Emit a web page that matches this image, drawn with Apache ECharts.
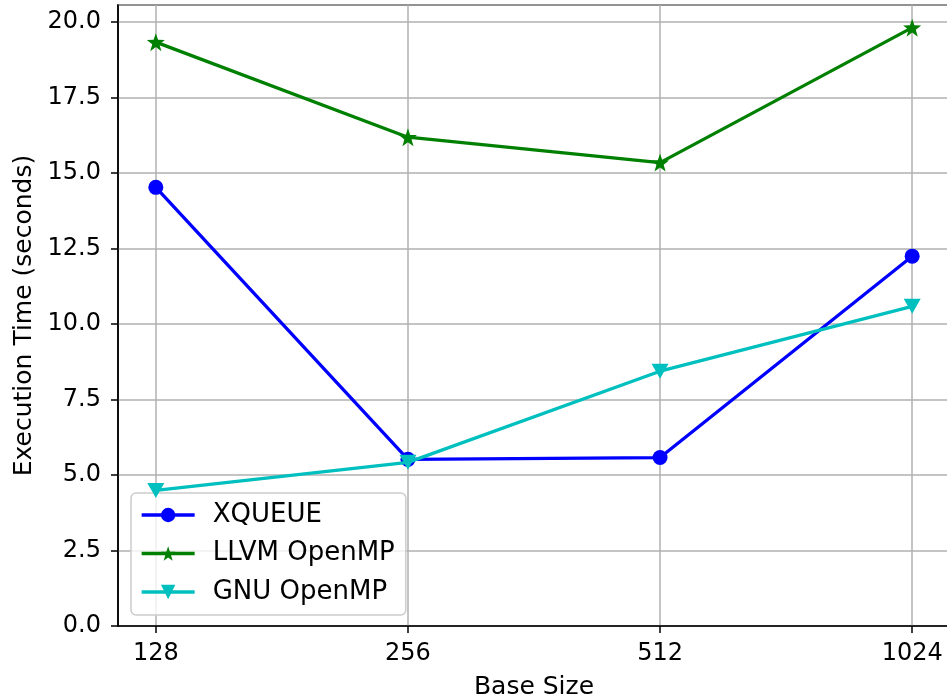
<!DOCTYPE html>
<html><head><meta charset="utf-8">
<script src="https://cdn.jsdelivr.net/npm/echarts@6/dist/echarts.min.js"></script>
<style>html,body{margin:0;padding:0;background:#fff}#c{width:947px;height:698px}</style>
</head><body><div id="c"></div>
<script>
const categories = ['128', '256', '512', '1024'];
const xqueue = [14.53, 5.52, 5.58, 12.25];
const llvm = [19.34, 16.19, 15.35, 19.82];
const gnu = [4.49, 5.42, 8.44, 10.59];
const yTicks = [0, 2.5, 5, 7.5, 10, 12.5, 15, 17.5, 20];

const FONT = 'DejaVu Sans';
const star = 'path://M0,-10 L2.35,-3.24 L9.51,-3.09 L3.8,1.24 L5.88,8.09 L0,4 L-5.88,8.09 L-3.8,1.24 L-9.51,-3.09 L-2.35,-3.24 Z';
const toPts = arr => arr.map((v, i) => [i, v]);

const chart = echarts.init(document.getElementById('c'), null, {renderer: 'canvas'});
chart.setOption({
  animation: false,
  backgroundColor: '#ffffff',
  textStyle: {fontFamily: FONT},
  grid: {left: 118, right: -3, top: 5, bottom: 72, outerBoundsMode: 'none', containLabel: false, show: true, borderColor: '#000', borderWidth: 1.5, backgroundColor: 'transparent'},
  xAxis: {
    type: 'value', min: -0.15, max: 3.15,
    name: 'Base Size', nameLocation: 'middle', nameGap: 49,
    nameTextStyle: {fontFamily: FONT, fontSize: 25, color: '#000'},
    axisLine: {show: true, onZero: false, lineStyle: {color: '#000', width: 1.5}},
    axisTick: {show: true, length: 7, customValues: [0, 1, 2, 3], lineStyle: {color: '#000', width: 1.5}},
    axisLabel: {customValues: [0, 1, 2, 3], formatter: v => categories[Math.round(v)], fontFamily: FONT, fontSize: 24, color: '#000', margin: 16},
    splitLine: {show: true, lineStyle: {color: '#b0b0b0', width: 1.5}}
  },
  yAxis: {
    type: 'value', min: 0, max: 20.57, interval: 2.5,
    name: 'Execution Time (seconds)', nameLocation: 'middle', nameGap: 80, nameRotate: 90,
    nameTextStyle: {fontFamily: FONT, fontSize: 25, color: '#000'},
    axisLine: {show: true, onZero: false, lineStyle: {color: '#000', width: 1.5}},
    axisTick: {show: true, length: 7, lineStyle: {color: '#000', width: 1.5}},
    axisLabel: {showMaxLabel: false, formatter: v => yTicks.includes(v) ? v.toFixed(1) : '', fontFamily: FONT, fontSize: 24, color: '#000', margin: 17},
    splitLine: {show: true, lineStyle: {color: '#b0b0b0', width: 1.5}}
  },
  legend: {
    left: 131, top: 493, orient: 'vertical',
    padding: [9, 11, 10, 9],
    backgroundColor: 'rgba(255,255,255,0.8)', borderColor: '#cccccc', borderWidth: 1.5, borderRadius: 5,
    itemWidth: 53, itemHeight: 18, itemGap: 12.5,
    lineStyle: {width: 3.3},
    textStyle: {fontFamily: FONT, fontSize: 26, color: '#000', padding: [0, 0, 0, 13]},
    data: ['XQUEUE', 'LLVM OpenMP', 'GNU OpenMP']
  },
  series: [
    {name: 'XQUEUE', type: 'line', data: toPts(xqueue), color: '#0000ff', lineStyle: {width: 3.3}, symbol: 'circle', symbolSize: 15, itemStyle: {color: '#0000ff'}, z: 2},
    {name: 'LLVM OpenMP', type: 'line', data: toPts(llvm), color: '#008000', lineStyle: {width: 3.3}, symbol: star, symbolSize: 18, itemStyle: {color: '#008000'}, z: 3},
    {name: 'GNU OpenMP', type: 'line', data: toPts(gnu), color: '#00bfbf', lineStyle: {width: 3.3}, symbol: 'triangle', symbolRotate: 180, symbolSize: [17, 15], itemStyle: {color: '#00bfbf'}, z: 4}
  ]
});
</script></body></html>
